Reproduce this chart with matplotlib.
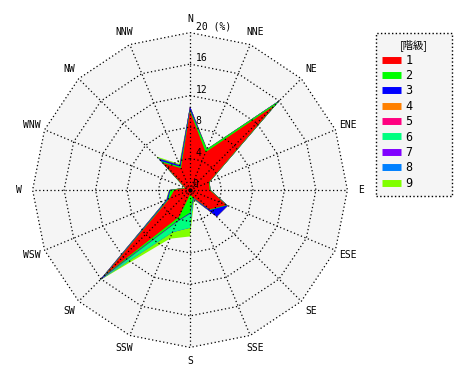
import numpy as np
import matplotlib.pyplot as plt
from matplotlib.lines import Line2D

# wind directions, clockwise from north
directions = ['N', 'NNE', 'NE', 'ENE', 'E', 'ESE', 'SE', 'SSE',
              'S', 'SSW', 'SW', 'WSW', 'W', 'WNW', 'NW', 'NNW']

# frequency (%) per class and direction
class1 = [10.0, 5.2, 15.2, 2.6, 2.5, 5.0, 3.5, 1.0, 0.6, 3.7, 15.3, 2.8, 2.0, 0.6, 4.9, 3.0]
class2 = [0.2, 0.4, 0.8, 0.1, 0.1, 0.1, 0.1, 0.1, 2.3, 0.6, 0.3, 0.2, 0.5, 0.1, 0.3, 0.2]
class3 = [0.4, 0.0, 0.1, 0.0, 0.0, 0.1, 1.2, 0.1, 0.1, 0.1, 0.5, 0.2, 0.1, 0.0, 0.4, 0.2]
class4 = [0.0] * 16
class5 = [0.0] * 16
class6 = [0.0, 0.0, 0.0, 0.0, 0.0, 0.0, 0.0, 0.0, 1.8, 1.4, 0.1, 0.0, 0.0, 0.0, 0.1, 0.0]
class7 = [0.0] * 16
class8 = [0.0] * 16
class9 = [0.0, 0.1, 0.0, 0.0, 0.0, 0.0, 0.0, 0.2, 1.1, 0.9, 0.1, 0.1, 0.1, 0.1, 0.3, 0.2]

class_labels = ['1', '2', '3', '4', '5', '6', '7', '8', '9']
class_colors = ['#ff0000', '#00ff00', '#0000ff', '#ff8000', '#ff0080',
                '#00ff80', '#8000ff', '#0080ff', '#80ff00']

ring_values = [4, 8, 12, 16, 20]

mono = 'DejaVu Sans Mono'


def to_xy(r):
    """polar (compass) -> cartesian, closed polygon"""
    ang = np.deg2rad(np.arange(len(directions)) * 22.5)
    r = np.asarray(r, dtype=float)
    x = r * np.sin(ang)
    y = r * np.cos(ang)
    return np.append(x, x[0]), np.append(y, y[0])


def main():
    fig = plt.figure(figsize=(4.7, 3.8), dpi=100)
    px = 7.87  # pixels per percent
    half = 173
    ax = fig.add_axes([(190 - half) / 470, (190 - half) / 380,
                       2 * half / 470, 2 * half / 380])
    lim = half / px
    ax.set_xlim(-lim, lim)
    ax.set_ylim(-lim, lim)
    ax.set_aspect('equal')
    ax.axis('off')

    rmax = ring_values[-1]

    # background of plot area
    bx, by = to_xy([rmax] * 16)
    ax.fill(bx, by, color='#f5f5f5', lw=0, zorder=0)

    # stacked classes, outermost first
    classes = [class1, class2, class3, class4, class5, class6, class7, class8, class9]
    cum = np.cumsum(np.array(classes), axis=0)
    for k in range(len(classes) - 1, -1, -1):
        x, y = to_xy(cum[k])
        ax.fill(x, y, color=class_colors[k], lw=0, zorder=2)

    # grid rings and spokes
    dot = (0, (1, 2))
    for rv in ring_values:
        x, y = to_xy([rv] * 16)
        ax.plot(x, y, color='black', lw=0.9, linestyle=dot, zorder=3)
    for i in range(len(directions)):
        a = np.deg2rad(i * 22.5)
        ax.plot([0, rmax * np.sin(a)], [0, rmax * np.cos(a)],
                color='black', lw=0.9, linestyle=dot, zorder=3)
    ax.plot(0, 0, 'o', color='black', ms=2, zorder=4)

    # ring labels
    ax.text(0.3, 0.15, '0', fontsize=7, family=mono, ha='left', va='bottom', zorder=5)
    for rv in ring_values[:-1]:
        ax.text(0.7, rv + 0.1, str(rv), fontsize=7, family=mono,
                ha='left', va='bottom', zorder=5)
    ax.text(0.7, rmax + 0.1, '20 (%)', fontsize=7, family=mono,
            ha='left', va='bottom', zorder=5)

    # direction labels
    for i, d in enumerate(directions):
        a = np.deg2rad(i * 22.5)
        ax.text(21.7 * np.sin(a), 21.7 * np.cos(a), d, fontsize=7, family=mono,
                ha='center', va='center')

    # legend
    handles = [Line2D([], [], color=c, lw=5, solid_capstyle='butt') for c in class_colors]
    leg = fig.legend(handles, class_labels, loc='upper left',
                     bbox_to_anchor=(376 / 470, 185 / 380, 76 / 470, 162 / 380),
                     mode='expand',
                     title='[階級]', frameon=True, fancybox=False,
                     handlelength=1.55, handletextpad=0.4, labelspacing=0.2,
                     borderpad=0.55, borderaxespad=0,
                     prop={'family': mono, 'size': 8.5})
    leg.get_title().set_fontfamily(['Noto Sans CJK JP', 'DejaVu Sans'])
    leg.get_title().set_fontsize(7.5)
    frame = leg.get_frame()
    frame.set_facecolor('#f5f5f5')
    frame.set_edgecolor('black')
    frame.set_linestyle(':')
    frame.set_linewidth(1.0)
    frame.set_alpha(1)

    fig.savefig('out.png', dpi=100)


if __name__ == '__main__':
    main()
